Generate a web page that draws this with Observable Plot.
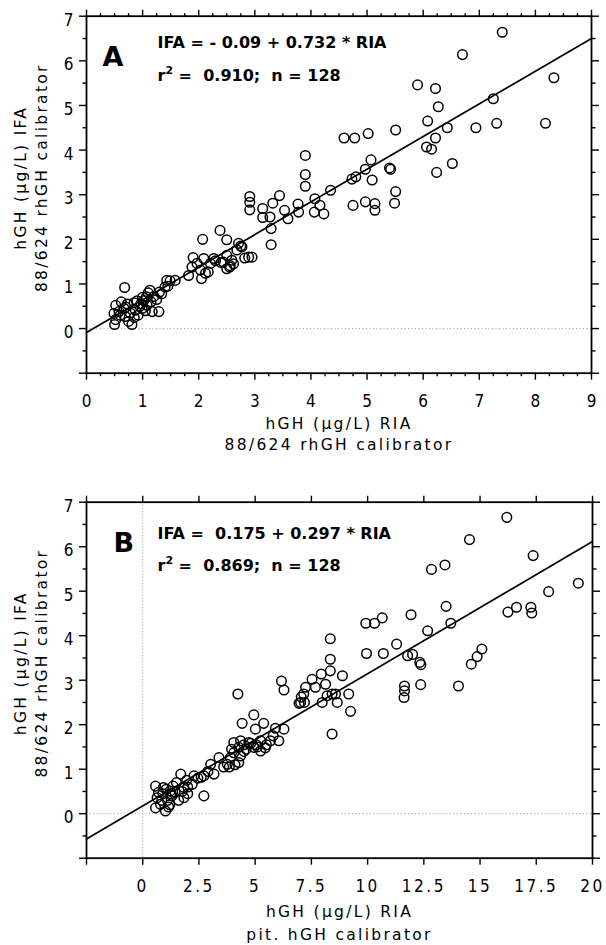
<!DOCTYPE html>
<html><head><meta charset="utf-8">
<script src="https://cdn.jsdelivr.net/npm/d3@7"></script>
<script src="https://cdn.jsdelivr.net/npm/@observablehq/plot@0.6"></script>
<style>
body{margin:0;background:#fff;}
#wrap{position:relative;width:606px;height:945px;background:#fff;overflow:hidden;}
#wrap svg{position:absolute;left:0;}
</style></head><body><div id="wrap"></div>
<script>
// ---------- Panel A data (88/624 rhGH calibrator, RIA vs IFA) ----------
const riaA = [7.41,6.70,5.90,6.22,8.33,7.25,7.31,8.18,6.94,6.43,6.27,6.08,6.22,6.06,6.15,6.52,6.24,5.51,5.02,4.78,4.59,5.07,5.09,4.80,4.73,4.97,5.40,5.42,5.51,4.35,3.90,3.90,3.90,4.75,4.97,5.14,5.14,5.49,2.91,2.91,2.91,3.44,3.32,3.14,3.14,3.27,3.29,3.29,3.53,3.59,3.77,3.78,4.07,4.16,4.06,4.23,
  2.38,2.07,2.50,2.71,2.77,2.68,2.89,2.95,2.82,2.50,2.44,2.56,2.50,2.59,2.27,2.09,1.90,1.88,2.03,2.17,1.82,2.05,2.12,1.97,2.21,2.62,2.55,2.75,2.40,2.30,
  1.58,1.43,1.49,1.40,1.34,1.13,1.07,0.68,1.29,1.17,0.97,0.85,0.73,0.52,0.49,0.52,0.50,0.69,0.75,0.81,0.67,0.87,0.99,1.02,1.10,1.20,0.90,0.95,1.05,0.60,0.78,0.62,1.15,0.92,1.25,1.30,1.45,0.58,0.85,1.00,0.70,1.08];
const ifaA = [6.64,6.14,5.46,5.38,5.62,5.15,4.60,4.60,4.50,4.50,4.97,4.65,4.27,4.07,4.02,3.70,3.50,4.45,4.37,4.27,4.27,3.78,3.33,3.40,3.35,3.57,3.60,3.57,3.07,3.10,3.88,3.45,3.19,2.76,2.84,2.80,2.65,2.81,2.96,2.83,2.66,2.98,2.81,2.69,2.49,2.50,2.24,1.88,2.65,2.46,2.79,2.61,2.91,2.76,2.61,2.57,
  2.20,2.00,1.99,1.91,1.83,1.76,1.60,1.60,1.58,1.64,1.49,1.41,1.34,1.53,1.57,1.57,1.59,1.38,1.31,1.27,1.19,1.12,1.24,1.46,1.46,1.45,1.38,1.85,1.48,1.52,
  1.08,1.08,1.07,0.93,0.78,0.86,0.71,0.92,0.38,0.38,0.55,0.58,0.55,0.52,0.34,0.20,0.09,0.27,0.16,0.09,0.45,0.41,0.45,0.63,0.80,0.72,0.62,0.50,0.40,0.30,0.35,0.60,0.60,0.30,0.65,0.82,0.95,0.38,0.25,0.70,0.48,0.52];
const fitA = {intercept: -0.09, slope: 0.732};

// ---------- Panel B data (pit. hGH calibrator RIA vs IFA) ----------
const riaB = [16.19,14.53,13.44,12.84,17.36,19.37,18.05,16.24,16.62,17.26,17.30,13.49,13.70,12.67,11.93,9.92,10.31,10.65,8.34,8.34,
  8.34,7.94,7.53,8.88,9.95,10.70,11.29,11.78,12.00,12.32,12.37,14.61,14.87,15.08,11.64,11.64,11.62,12.36,14.04,4.23,
  6.17,6.28,8.13,7.68,7.24,7.16,7.02,7.19,7.98,8.20,8.42,8.57,8.65,9.16,9.24,8.42,4.94,4.42,5.38,5.01,
  5.90,6.28,6.05,5.68,5.24,4.94,5.24,4.72,4.35,4.05,4.27,4.05,4.35,3.90,3.76,4.27,3.39,3.02,3.17,2.72,
  2.28,1.69,2.20,1.83,2.72,1.83,0.57,0.92,1.22,0.64,0.79,1.01,0.57,1.44,1.10,1.30,0.90,1.05,1.50,1.95,
  2.45,1.15,0.70,1.60,2.00,5.10,5.50,4.60,3.60,4.10,5.80,5.45,4.50,3.85,2.90,1.35,0.85,1.20,7.05,6.95,
  5.05,4.80,3.95,4.50,2.00,1.75,1.25,2.60];
const ifaB = [6.66,6.16,5.59,5.49,5.80,5.18,4.99,4.53,4.64,4.64,4.51,4.66,4.28,4.11,4.47,4.28,4.28,4.40,3.93,3.47,
  3.21,3.14,3.02,3.10,3.60,3.60,3.81,3.55,3.58,3.40,3.35,3.36,3.53,3.70,2.87,2.76,2.61,2.90,2.87,2.69,
  2.98,2.78,2.91,2.84,2.84,2.69,2.50,2.50,2.50,2.65,2.69,2.69,2.50,2.69,2.30,1.79,2.22,2.03,2.03,1.90,
  1.92,1.90,1.64,1.64,1.64,1.49,1.41,1.60,1.64,1.60,1.49,1.37,1.30,1.26,1.11,1.15,1.26,1.11,0.89,0.85,
  0.85,0.89,0.66,0.59,0.40,0.36,0.62,0.59,0.51,0.36,0.21,0.06,0.13,0.48,0.30,0.40,0.45,0.55,0.70,0.75,
  0.80,0.15,0.48,0.30,0.45,1.50,1.55,1.45,1.05,1.10,1.75,1.48,1.55,1.05,0.95,0.62,0.30,0.20,2.62,2.48,
  1.55,1.58,1.45,1.40,0.60,0.50,0.45,0.82];
const fitB = {intercept: 0.175, slope: 0.297};

// ---------- ticks & labels ----------
const xTicksA = [0,1,2,3,4,5,6,7,8,9];
const xTicksB = [-2.5,0,2.5,5,7.5,10,12.5,15,17.5,20];
const xLabelsB = [0,2.5,5,7.5,10,12.5,15,17.5,20];
const yTicks = [-1,0,1,2,3,4,5,6,7];
const yLabels = [0,1,2,3,4,5,6,7];

const xTitleA = ["hGH (\u00b5g/L) RIA", "88/624 rhGH calibrator"];
const xTitleB = ["hGH (\u00b5g/L) RIA", "pit. hGH calibrator"];
const yTitle = ["hGH (\u00b5g/L) IFA", "88/624 rhGH calibrator"];
const eqA = ["IFA = - 0.09 + 0.732 * RIA", "r2 =  0.910;  n = 128"];
const eqB = ["IFA =  0.175 + 0.297 * RIA", "r2 =  0.869;  n = 128"];

const TICKFONT = "'DejaVu Sans Condensed', 'DejaVu Sans', sans-serif";
const TITLEFONT = "'DejaVu Sans', sans-serif";
const BOLDFONT = "'DejaVu Sans', sans-serif";

function panel(cfg) {
  const pts = cfg.ria.map((r, i) => ({ria: r, ifa: cfg.ifa[i]}));
  const fit = cfg.xDomain.map(x => ({x, y: cfg.fit.intercept + cfg.fit.slope * x}));
  const minorX = cfg.minorX;
  const minorY = d3.range(-0.5, 7, 1);
  const ax = {label: null, stroke: "black", strokeWidth: 1.4};
  const fmt = d => String(d);
  const tt = {fontSize: 15.5, fontFamily: TITLEFONT, fill: "black", className: "ttl", textAnchor: "middle", lineAnchor: "middle"};
  const marks = [
    Plot.ruleY([0], {stroke: "#8a8a8a", strokeWidth: 0.9, strokeDasharray: "1,2.5"}),
  ];
  if (cfg.vzero) marks.push(Plot.ruleX([0], {stroke: "#8a8a8a", strokeWidth: 0.9, strokeDasharray: "1,2"}));
  marks.push(
    Plot.line(fit, {x: "x", y: "y", stroke: "black", strokeWidth: 1.7}),
    Plot.dot(pts, {x: "ria", y: "ifa", r: 4.8, fill: "none", stroke: "black", strokeWidth: 1.5}),
    Plot.frame({stroke: "black", strokeWidth: 1.8}),
    // x ticks
    Plot.axisX(cfg.xTicks, {...ax, anchor: "bottom", tickSize: 7, text: null}),
    Plot.axisX(cfg.xTicks, {...ax, anchor: "top", tickSize: 7, text: null}),
    Plot.axisX(cfg.xLabels, {label: null, anchor: "bottom", tickSize: 0, tickPadding: 22, tickFormat: fmt,
      fontSize: 17, fontFamily: TICKFONT, fill: "black"}),
    // y ticks
    Plot.axisY(yTicks, {...ax, anchor: "left", tickSize: 7, text: null}),
    Plot.axisY(yTicks, {...ax, anchor: "right", tickSize: 7, text: null}),
    Plot.axisY(minorY, {...ax, anchor: "left", tickSize: 3.5, text: null}),
    Plot.axisY(minorY, {...ax, anchor: "right", tickSize: 3.5, text: null}),
    Plot.axisY(yLabels, {label: null, anchor: "left", tickSize: 0, tickPadding: 13, dy: 4, tickFormat: fmt,
      fontSize: 17, fontFamily: TICKFONT, fill: "black"}),
    // axis titles
    Plot.text([cfg.xTitle[0]], {...tt, frameAnchor: "bottom", dy: cfg.xt1}),
    Plot.text([cfg.xTitle[1]], {...tt, frameAnchor: "bottom", dy: cfg.xt2}),
    Plot.text([yTitle[0]], {...tt, frameAnchor: "left", rotate: -90, dx: -65, dy: -17}),
    Plot.text([yTitle[1]], {...tt, frameAnchor: "left", rotate: -90, dx: -44, dy: -17}),
    // annotations
    Plot.text([cfg.letter], {frameAnchor: "top-left", dx: cfg.letterDx, dy: cfg.letterDy, textAnchor: "start", lineAnchor: "bottom",
      fontSize: 27, fontWeight: "bold", fontFamily: BOLDFONT, fill: "black"}),
    Plot.text([cfg.eq[0]], {frameAnchor: "top-left", dx: 71, dy: cfg.eq1, textAnchor: "start", lineAnchor: "bottom",
      fontSize: 16, fontWeight: "bold", fontFamily: BOLDFONT, fill: "black"}),
    Plot.text([cfg.eq[1]], {frameAnchor: "top-left", dx: 71, dy: cfg.eq2, textAnchor: "start", lineAnchor: "bottom",
      fontSize: 16, fontWeight: "bold", fontFamily: BOLDFONT, fill: "black", className: "rsq"})
  );
  if (minorX.length) {
    marks.push(
      Plot.axisX(minorX, {...ax, anchor: "bottom", tickSize: 3.5, text: null}),
      Plot.axisX(minorX, {...ax, anchor: "top", tickSize: 3.5, text: null})
    );
  }
  const svg = Plot.plot({
    width: 606, height: cfg.height,
    marginLeft: 86, marginRight: cfg.mr, marginTop: cfg.mt, marginBottom: cfg.mb,
    x: {domain: cfg.xDomain, axis: null},
    y: {domain: [-1, 7], axis: null},
    style: {background: "transparent", overflow: "visible", color: "black"},
    marks
  });
  svg.style.top = cfg.top + "px";
  const s = d3.select(svg);
  s.selectAll('g[aria-label="x-axis tick label"]').attr("letter-spacing", cfg.tickLS);
  s.selectAll('.ttl').attr("letter-spacing", "2.3px");
  // superscript 2 in r^2
  s.selectAll('.rsq text').each(function() {
    const t = d3.select(this);
    const str = t.text();
    t.text(null);
    t.append("tspan").text(str.slice(0, 1));
    t.append("tspan").attr("font-size", 11).attr("dy", -6.5).text(str.slice(1, 2));
    t.append("tspan").attr("dy", 6.5).text(str.slice(2));
  });
  return svg;
}

const wrap = document.getElementById("wrap");
wrap.appendChild(panel({
  ria: riaA, ifa: ifaA, fit: fitA, xDomain: [0, 9], xTicks: xTicksA, xLabels: xTicksA,
  minorX: d3.range(0, 9, 0.25).filter(v => v % 1 !== 0),
  xTitle: xTitleA, eq: eqA, letter: "A", letterDx: 16, letterDy: 49.5, eq1: 31.5, eq2: 64.5,
  top: 0, height: 470, mt: 15.7, mb: 470 - 372.7, mr: 15, xt1: 51.3, xt2: 72.3, tickLS: "0px", vzero: false
}));
wrap.appendChild(panel({
  ria: riaB, ifa: ifaB, fit: fitB, xDomain: [-2.5, 20], xTicks: xTicksB, xLabels: xLabelsB,
  minorX: [],
  xTitle: xTitleB, eq: eqB, letter: "B", letterDx: 27, letterDy: 50, eq1: 36.5, eq2: 68.5,
  top: 470, height: 475, mt: 501.7 - 470, mb: 475 - (857.7 - 470), mr: 14, xt1: 54, xt2: 77.3, tickLS: "2.5px", vzero: true
}));
</script></body></html>
